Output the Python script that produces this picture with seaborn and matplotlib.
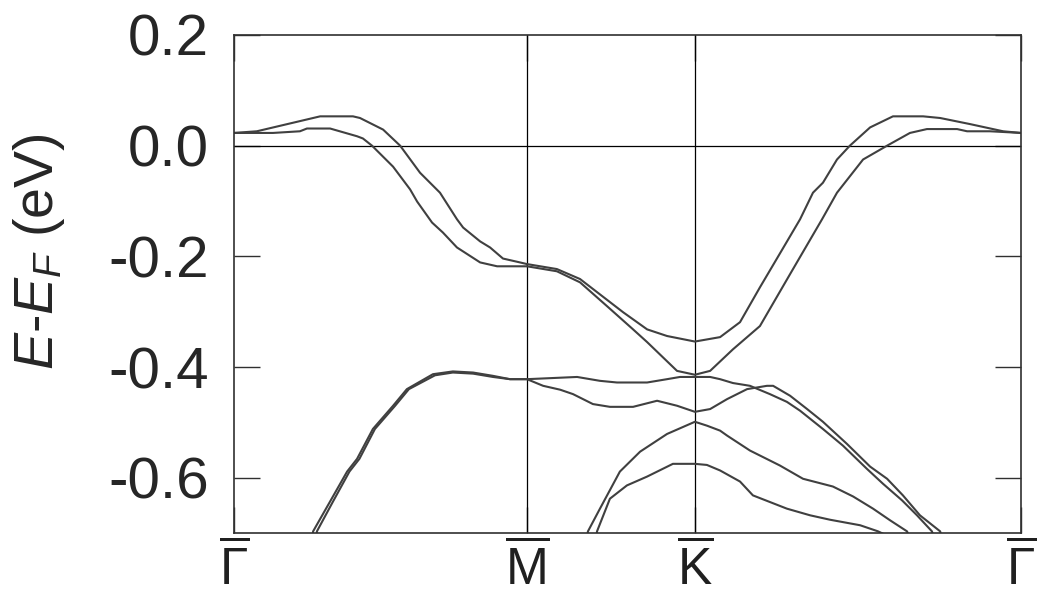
import numpy as np
import pandas as pd
import matplotlib
matplotlib.use("Agg")
import matplotlib.pyplot as plt
import seaborn as sns
from matplotlib import font_manager as fm

# ---- high-symmetry points (path coordinate) ----
kpt_pos = [0.0, 1.0, 1.573, 2.686]
kpt_labels = [r"$\overline{\Gamma}$", r"$\overline{\mathrm{M}}$", r"$\overline{\mathrm{K}}$", r"$\overline{\Gamma}$"]
yticks = [0.2, 0.0, -0.2, -0.4, -0.6]

# ---- bands (k, E-EF in eV) ----
band_a_k = [0, 0.078, 0.294, 0.406, 0.430, 0.509, 0.567, 0.635, 0.703, 0.761, 0.782, 0.840, 0.874, 0.918, 0.976, 1.0]
band_a_e = [0.023, 0.026, 0.053, 0.053, 0.050, 0.029, 0.0, -0.049, -0.085, -0.133, -0.148, -0.173, -0.184, -0.204, -0.211, -0.214]

band_b_k = [0, 0.133, 0.225, 0.249, 0.328, 0.420, 0.440, 0.471, 0.543, 0.601, 0.625, 0.676, 0.713, 0.761, 0.840, 0.898, 1.0]
band_b_e = [0.023, 0.023, 0.026, 0.031, 0.031, 0.017, 0.013, 0.0, -0.038, -0.079, -0.101, -0.139, -0.157, -0.184, -0.211, -0.218, -0.218]

band_c_k = [1.0, 1.102, 1.181, 1.328, 1.410, 1.478, 1.573, 1.659, 1.727, 1.795, 1.863, 1.932, 1.976, 2.010, 2.058, 2.102, 2.171, 2.249, 2.352, 2.410, 2.512, 2.625, 2.686]
band_c_e = [-0.214, -0.223, -0.241, -0.301, -0.332, -0.344, -0.354, -0.346, -0.319, -0.256, -0.195, -0.133, -0.085, -0.067, -0.025, 0.0, 0.033, 0.053, 0.053, 0.050, 0.039, 0.026, 0.023]

band_d_k = [1.0, 1.102, 1.181, 1.273, 1.362, 1.410, 1.512, 1.573, 1.625, 1.703, 1.795, 1.898, 2.007, 2.058, 2.147, 2.229, 2.307, 2.365, 2.468, 2.502, 2.580, 2.686]
band_d_e = [-0.218, -0.227, -0.247, -0.290, -0.332, -0.355, -0.407, -0.414, -0.407, -0.368, -0.326, -0.232, -0.133, -0.085, -0.025, 0.0, 0.023, 0.030, 0.030, 0.026, 0.026, 0.023]

band_e_k = [0.265, 0.270, 0.328, 0.386, 0.420, 0.474, 0.543, 0.590, 0.679, 0.747, 0.816, 0.884, 0.942, 1.0,
            1.171, 1.249, 1.307, 1.410, 1.478, 1.522, 1.573, 1.625, 1.659, 1.703, 1.761, 1.829, 1.887, 1.932,
            2.010, 2.078, 2.160, 2.215, 2.280, 2.331, 2.382, 2.400]
band_e_e = [-0.72, -0.697, -0.643, -0.589, -0.566, -0.512, -0.470, -0.440, -0.413, -0.408, -0.410, -0.416, -0.422, -0.422,
            -0.418, -0.425, -0.428, -0.428, -0.422, -0.418, -0.418, -0.418, -0.422, -0.429, -0.434, -0.449, -0.463, -0.479,
            -0.512, -0.542, -0.584, -0.611, -0.641, -0.668, -0.697, -0.725]

band_f_k = [0.278, 0.283, 0.338, 0.394, 0.428, 0.481, 0.550, 0.597, 0.686, 0.747, 0.816, 0.884, 0.942, 1.0,
            1.055, 1.113, 1.157, 1.225, 1.283, 1.362, 1.444, 1.512, 1.573, 1.625, 1.683, 1.751, 1.819, 1.840,
            1.898, 1.956, 2.010, 2.092, 2.171, 2.229, 2.283, 2.341, 2.410, 2.425]
band_f_e = [-0.72, -0.697, -0.643, -0.589, -0.566, -0.512, -0.470, -0.440, -0.415, -0.410, -0.412, -0.418, -0.422, -0.422,
            -0.434, -0.441, -0.449, -0.467, -0.472, -0.472, -0.461, -0.470, -0.481, -0.476, -0.458, -0.440, -0.434, -0.434,
            -0.452, -0.476, -0.499, -0.539, -0.580, -0.602, -0.632, -0.668, -0.697, -0.725]

band_g_k = [1.199, 1.208, 1.249, 1.317, 1.386, 1.478, 1.573, 1.614, 1.659, 1.683, 1.761, 1.863, 1.942, 2.044, 2.113, 2.181, 2.239, 2.297, 2.320]
band_g_e = [-0.725, -0.697, -0.656, -0.589, -0.553, -0.521, -0.499, -0.506, -0.515, -0.524, -0.551, -0.578, -0.602, -0.616, -0.634, -0.656, -0.677, -0.697, -0.725]

band_h_k = [1.232, 1.239, 1.283, 1.341, 1.410, 1.498, 1.573, 1.614, 1.659, 1.727, 1.771, 1.887, 1.966, 2.034, 2.137, 2.198, 2.250]
band_h_e = [-0.725, -0.697, -0.638, -0.614, -0.598, -0.575, -0.575, -0.577, -0.587, -0.607, -0.632, -0.656, -0.668, -0.676, -0.686, -0.697, -0.710]

bands = {
    "a": (band_a_k, band_a_e), "b": (band_b_k, band_b_e),
    "c": (band_c_k, band_c_e), "d": (band_d_k, band_d_e),
    "e": (band_e_k, band_e_e), "f": (band_f_k, band_f_e),
    "g": (band_g_k, band_g_e), "h": (band_h_k, band_h_e),
}

# ---- style ----
sns.set_theme(style="ticks")
names = {f.name for f in fm.fontManager.ttflist}
main_font = "Liberation Sans" if "Liberation Sans" in names else "DejaVu Sans"
narrow_font = "Liberation Sans Narrow" if "Liberation Sans Narrow" in names else main_font
plt.rcParams["font.family"] = [main_font, "DejaVu Sans"]
plt.rcParams["mathtext.fontset"] = "custom"
plt.rcParams["mathtext.rm"] = narrow_font
plt.rcParams["mathtext.it"] = main_font + ":italic"
plt.rcParams["axes.unicode_minus"] = False

fig = plt.figure(figsize=(10.38, 6.0), dpi=100)
ax = fig.add_axes([234 / 1038, 1 - 533 / 600, (1021 - 234) / 1038, (533 - 35) / 600])

line_color = "#404040"
for name, (k, e) in bands.items():
    df = pd.DataFrame({"k": k, "E": e})
    sns.lineplot(data=df, x="k", y="E", ax=ax, color=line_color, lw=1.5,
                 sort=False, estimator=None, legend=False)

for xp in kpt_pos[1:-1]:
    ax.axvline(xp, color="black", lw=0.9, zorder=1)
ax.axhline(0.0, color="black", lw=0.9, zorder=1)

ax.set_xlim(kpt_pos[0], kpt_pos[-1])
ax.set_ylim(-0.7, 0.2)
ax.set_yticks(yticks)
ax.set_yticklabels([f"{v:.1f}" for v in yticks], fontsize=42, family=main_font)
ax.set_xticks(kpt_pos)
ax.set_xticklabels(kpt_labels)
for lab in ax.get_xticklabels():
    lab.set_fontsize(37)
    lab.set_color("#202020")
ax.tick_params(axis="both", direction="in", length=19, width=1.0, color="#303030",
               top=True, right=True)
ax.tick_params(axis="y", pad=18)
ax.tick_params(axis="x", pad=6)

ax.set_xlabel("")
ax.set_ylabel(r"$E$-$E_F$ (eV)", fontsize=40)
ax.yaxis.set_label_coords(-0.212, 0.565)

for side, sp in ax.spines.items():
    sp.set_visible(True)
    sp.set_color("#303030")
    sp.set_linewidth(1.2)

fig.savefig("out.png", dpi=100, facecolor="white")
